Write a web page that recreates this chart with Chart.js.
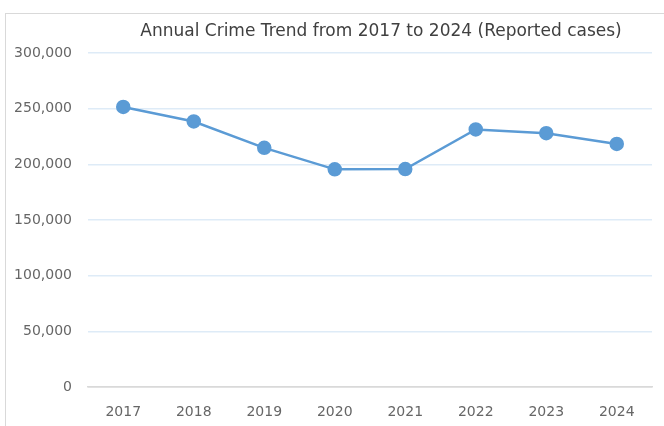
<!DOCTYPE html>
<html>
<head>
<meta charset="utf-8">
<script src="https://cdn.jsdelivr.net/npm/chart.js@4.4.1/dist/chart.umd.min.js"></script>
<style>
  html, body { margin: 0; padding: 0; background: #fff; }
  #wrap { position: relative; width: 664px; height: 426px; overflow: hidden; }
  #frame { position: absolute; left: 5px; top: 13px; width: 700px; height: 500px;
           border-left: 1px solid #d9d9d9; border-top: 1px solid #d9d9d9; }
  canvas { position: absolute; left: 0; top: 0; }
</style>
</head>
<body>
<div id="wrap">
  <div id="frame"></div>
  <canvas id="crimeChart" width="664" height="426"></canvas>
</div>
<script>
  // Chart data
  const titleText = 'Annual Crime Trend from 2017 to 2024 (Reported cases)';
  const years = ['2017', '2018', '2019', '2020', '2021', '2022', '2023', '2024'];
  const reportedCases = [251500, 238500, 214800, 195500, 195800, 231300, 228000, 218300];
  const yTicks = [0, 50000, 100000, 150000, 200000, 250000, 300000];

  const blue = '#5b9bd5';
  const tickFont = { family: "'DejaVu Sans', sans-serif", size: 14 };

  // draws the title a little right of the plot centre, like the original
  const titlePlugin = {
    id: 'topTitle',
    afterDraw(chart) {
      const { ctx, chartArea } = chart;
      ctx.save();
      ctx.font = "17px 'Comic Sans MS', 'DejaVu Sans', sans-serif";
      ctx.fillStyle = '#404040';
      ctx.textAlign = 'center';
      ctx.textBaseline = 'middle';
      ctx.fillText(titleText, (chartArea.left + chartArea.right) / 2 + 11, 32);
      ctx.restore();
    }
  };

  const ctx = document.getElementById('crimeChart').getContext('2d');
  new Chart(ctx, {
    type: 'line',
    data: {
      labels: years,
      datasets: [{
        label: 'Reported cases',
        data: reportedCases,
        borderColor: blue,
        backgroundColor: blue,
        borderWidth: 2.5,
        pointRadius: 6,
        pointBackgroundColor: blue,
        pointBorderColor: blue,
        tension: 0
      }]
    },
    options: {
      responsive: false,
      animation: false,
      layout: { padding: { left: 6, right: 12, top: 53, bottom: 0 } },
      plugins: {
        legend: { display: false },
        title: { display: false },
        tooltip: { enabled: false }
      },
      scales: {
        x: {
          offset: true,
          grid: { display: false, drawTicks: false },
          border: { display: true, color: '#d9d9d9', width: 1.5 },
          ticks: { color: '#666666', font: tickFont, padding: 17, maxRotation: 0 },
          afterFit(axis) { axis.height = 39; }
        },
        y: {
          min: 0,
          max: 300000,
          afterBuildTicks(axis) { axis.ticks = yTicks.map(v => ({ value: v })); },
          grid: {
            drawTicks: false,
            color: c => c.tick && c.tick.value === 0 ? '#d9d9d9' : '#deebf7',
            lineWidth: 1.5
          },
          border: { display: false },
          ticks: {
            color: '#666666',
            font: tickFont,
            padding: 16,
            callback: v => v.toLocaleString('en-US')
          },
          afterFit(axis) { axis.width = 82; }
        }
      }
    },
    plugins: [titlePlugin]
  });
</script>
</body>
</html>
